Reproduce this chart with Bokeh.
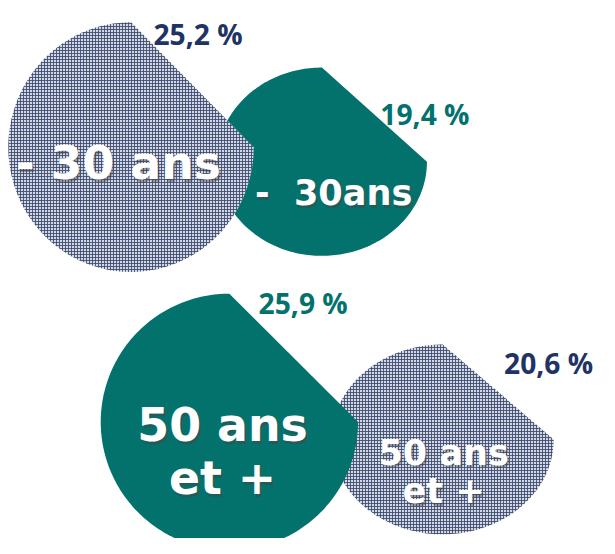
import numpy as np
from bokeh.plotting import figure
from bokeh.models import Range1d
from bokeh.core.properties import value
from bokeh.embed import file_html
from bokeh.resources import INLINE

# ---- data ----
labels = ["- 30 ans", "-\u00a0 30ans", "50 ans\net +", "50 ans\net +"]
values = [25.2, 19.4, 25.9, 20.6]
styles = ["hatch", "teal", "teal", "hatch"]

# ---- layout (reference pixels) ----
PX_PER_PCT = 5.1
centers = [(134, 151), (330, 166), (235, 434), (454, 452)]
stretch = [(0.98, 1.0), (1.09, 0.98), (1.0, 1.0), (1.085, 0.93)]
draw_order = [1, 0, 3, 2]
label_pos = [(121, 167, 47), (342, 198, 36), (228, 437, 47), (455, 465, 36)]
line_gap = [0, 0, 55, 40]
pct_pos = [(157, 34), (390, 117), (265, 312), (517, 373)]

TEAL = "#03726d"
NAVY = "#1f3464"

RW, RH = 615, 554
W, H = 599, 538
S = W / RW

p = figure(width=W, height=H, output_backend="svg", toolbar_location=None,
           x_range=Range1d(0, RW), y_range=Range1d(RH, 0),
           min_border=0)
p.axis.visible = False
p.grid.visible = False
p.outline_line_color = None
p.background_fill_color = "white"
p.border_fill_color = "white"


def shape(i):
    cx, cy = centers[i]
    r = values[i] * PX_PER_PCT
    sx, sy = stretch[i]
    t = np.linspace(0, 1.5 * np.pi, 200)
    xs = cx + r * sx * np.cos(t)
    ys = cy + r * sy * np.sin(t)
    return list(xs), list(ys)


for i in draw_order:
    xs, ys = shape(i)
    if styles[i] == "teal":
        p.patch(xs, ys, fill_color=TEAL, line_color=None)
    else:
        p.patch(xs, ys, fill_color="#d3d7df", line_color=None,
                hatch_pattern="cross", hatch_scale=3, hatch_weight=1,
                hatch_color="#3a4870", hatch_alpha=0.85)
    lx, ly, fs = label_pos[i]
    lines = labels[i].split("\n")
    for k, ln in enumerate(lines):
        yy = ly + k * line_gap[i]
        p.text([lx + 2], [yy + 3], text=[ln], text_font=value("DejaVu Sans"),
               text_font_style="bold", text_font_size=f"{fs * S:.1f}px",
               text_color="#444444", text_alpha=0.45,
               text_align="center", text_baseline="alphabetic")
        p.text([lx], [yy], text=[ln], text_font=value("DejaVu Sans"),
               text_font_style="bold", text_font_size=f"{fs * S:.1f}px",
               text_color="white",
               text_align="center", text_baseline="alphabetic")

for i, v in enumerate(values):
    px, py = pct_pos[i]
    txt = f"{v:.1f}".replace(".", ",") + " %"
    p.text([px], [py], text=[txt], text_font=value("Open Sans"),
           text_font_style="bold", text_font_size=f"{29 * S:.1f}px",
           text_color=TEAL if styles[i] == "teal" else NAVY,
           text_align="left", text_baseline="alphabetic")

open("out.html", "w").write(file_html(p, INLINE))
